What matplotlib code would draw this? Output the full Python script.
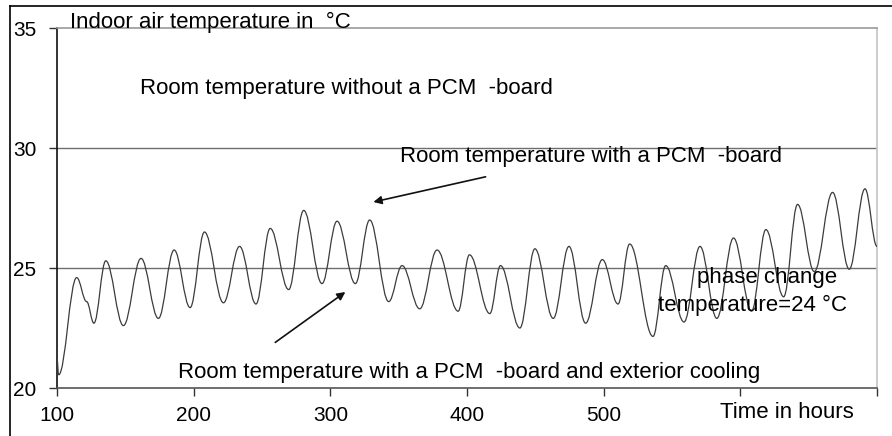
import matplotlib
matplotlib.use("Agg")
import matplotlib.pyplot as plt
from matplotlib.lines import Line2D
from matplotlib.path import Path
from matplotlib.patches import PathPatch

plt.rcParams['font.family'] = ['Liberation Sans', 'DejaVu Sans']

# Room temperature with a PCM-board and exterior cooling:
# turning points (peaks / troughs / shoulders)
hours = [100, 101.2, 114.4, 121.7, 127, 135.7, 148.6, 161.5, 174.2,
         185.7, 197.4, 207.9, 221.8, 233.6, 245.6, 256, 269.5, 280.5, 293.9,
         304.9, 318.3, 328.8, 342.7, 352.5, 365.4, 378.1, 393.5, 401.8, 416.7,
         424.5, 438.7, 449.7, 463.1, 474.6, 486.8, 499, 510.5, 519, 536.1,
         545.4, 558.8, 570.5, 582.8, 595, 608.2, 618.7, 631.7, 641.9, 654.1,
         667.5, 679.7, 691.2, 700]
temps = [21.2, 20.55, 24.6, 23.6, 22.7, 25.3, 22.6, 25.4, 22.9,
         25.75, 23.35, 26.5, 23.55, 25.9, 23.5, 26.65, 24.1, 27.4, 24.35,
         26.95, 24.35, 27.0, 23.6, 25.1, 23.3, 25.75, 23.2, 25.55, 23.1,
         25.1, 22.5, 25.8, 22.9, 25.9, 22.7, 25.35, 23.5, 26.0, 22.15,
         25.1, 22.75, 25.9, 22.9, 26.25, 23.2, 26.6, 23.8, 27.65, 24.85,
         28.15, 24.95, 28.3, 25.9]

x_ticks = [100, 200, 300, 400, 500, 600, 700]
x_labels = ['100', '200', '300', '400', '500', '', '']
y_ticks = [20, 25, 30, 35]
y_labels = ['20', '25', '30', '35']

fig = plt.figure(figsize=(8.92, 4.36), dpi=100)
ax = fig.add_axes([57/892, 1-388/436, 820/892, 360/436])

# smooth rendering between turning points (cubic Bezier segments, flat at turning points)
verts = [(hours[0], temps[0])]
codes = [Path.MOVETO]
for i in range(1, len(hours)):
    x0, y0 = hours[i-1], temps[i-1]
    x1, y1 = hours[i], temps[i]
    dx = (x1 - x0) * 0.38
    verts += [(x0 + dx, y0), (x1 - dx, y1), (x1, y1)]
    codes += [Path.CURVE4, Path.CURVE4, Path.CURVE4]
ax.add_patch(PathPatch(Path(verts, codes), facecolor='none', edgecolor='#3c3c3c',
                       lw=0.9, zorder=3))

ax.set_xlim(100, 700)
ax.set_ylim(20, 35)
ax.set_xticks(x_ticks)
ax.set_xticklabels(x_labels)
ax.set_yticks(y_ticks)
ax.set_yticklabels(y_labels)
ax.tick_params(axis='both', direction='out', length=6, width=1, labelsize=15,
               color='#333333')
ax.tick_params(axis='y', pad=9)
ax.tick_params(axis='x', pad=7)

for y in (25, 30):
    ax.axhline(y, color='#6e6e6e', lw=1.0, zorder=1)

ax.spines['left'].set_color('#111111')
ax.spines['bottom'].set_color('#555555')
ax.spines['top'].set_color('#9a9a9a')
ax.spines['right'].set_color('#c4c4c4')
for s in ax.spines.values():
    s.set_linewidth(1.2)

fs = 16
ax.text(13/820, 1.0, 'Indoor air temperature in  °C', transform=ax.transAxes,
        fontsize=fs, ha='left', va='baseline')
ax.text(83/820, 0.833, 'Room temperature without a PCM  -board', transform=ax.transAxes,
        fontsize=fs, ha='left', va='center')
ax.text(343/820, 0.642, 'Room temperature with a PCM  -board', transform=ax.transAxes,
        fontsize=fs, ha='left', va='center')
ax.text(121/820, 0.0444, 'Room temperature with a PCM  -board and exterior cooling',
        transform=ax.transAxes, fontsize=fs, ha='left', va='center')
ax.text(710/820, 0.3056, 'phase change', transform=ax.transAxes,
        fontsize=fs, ha='center', va='center')
ax.text(696/820, 0.2306, 'temperature=24 °C', transform=ax.transAxes,
        fontsize=fs, ha='center', va='center')
ax.text(663/820, -0.0694, 'Time in hours', transform=ax.transAxes,
        fontsize=fs, ha='left', va='center', clip_on=False)

arrow = dict(arrowstyle='-|>', color='#111111', lw=1.2, mutation_scale=12,
             shrinkA=0, shrinkB=0)
ax.annotate('', xy=(331.5, 27.75), xytext=(413.6, 28.8), arrowprops=arrow)
ax.annotate('', xy=(311, 24.0), xytext=(259.7, 21.9), arrowprops=arrow)

# figure frame (left and top)
fig.add_artist(Line2D([9.5/892, 9.5/892], [0, 1-6.5/436], transform=fig.transFigure,
                      color='black', lw=1.2))
fig.add_artist(Line2D([9.5/892, 1], [1-6.5/436, 1-6.5/436], transform=fig.transFigure,
                      color='black', lw=1.2))

fig.savefig('out.png', dpi=100)
